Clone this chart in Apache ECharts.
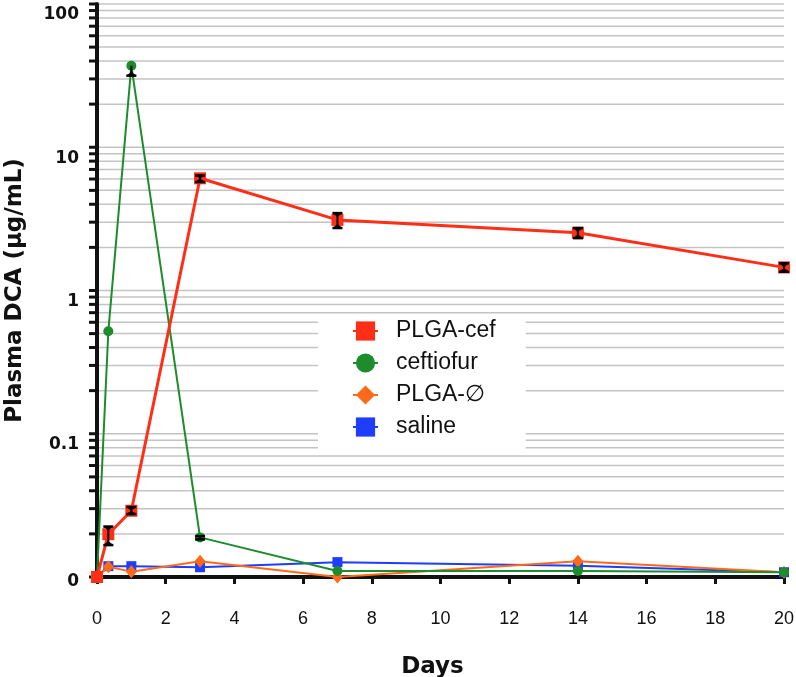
<!DOCTYPE html>
<html>
<head>
<meta charset="utf-8">
<script src="https://cdn.jsdelivr.net/npm/echarts@6/dist/echarts.min.js"></script>
<style>html,body{margin:0;padding:0;background:#fff}#c{width:796px;height:677px}</style>
</head>
<body>
<div id="c"></div>
<script>
// ---- data ----
const days = [0, 0.33, 1, 3, 7, 14, 20];
const plgaCef    = [0.01, 0.0199, 0.0290, 6.07, 3.11, 2.53, 1.45];
const plgaCefLo  = [null, 0.0167, 0.0275, 5.72, 2.73, 2.32, 1.35];
const plgaCefHi  = [null, 0.0225, 0.0308, 6.35, 3.47, 2.73, 1.55];
const ceftiofur   = [0.01, 0.52, 37.1, 0.0189, 0.0110, 0.0110, 0.0108];
const ceftiofurLo = [null, null, 31.6, 0.0183, null, null, null];
const ceftiofurHi = [null, null, 37.1, 0.0193, null, null, null];
const plgaEmpty = [0.01, 0.0118, 0.0109, 0.0129, 0.0100, 0.0129, 0.0108];
const saline    = [0.01, 0.0119, 0.0119, 0.0117, 0.0127, 0.0120, 0.0108];
const seriesNames = ['PLGA-cef', 'ceftiofur', 'PLGA-\u2205', 'saline'];
const yTickValues = [0.01, 0.1, 1, 10, 100];
const yTickLabels = ['0', '0.1', '1', '10', '100'];
const yMinorValues = [];
[0.01, 0.1, 1, 10].forEach(d => { for (let k = 1; k <= 9; k++) yMinorValues.push(+(d * k).toPrecision(3)); });
yMinorValues.push(100);
const xTicks = { min: 0, max: 20, interval: 2 };

const colors = { cef: '#ff2e17', ceft: '#1c8c2c', empty: '#ff6a1a', saline: '#1f3dff' };
const SANS = '"Liberation Sans", Arial, sans-serif';
const BOLD = '"DejaVu Sans", sans-serif';

function pts(vals) { return days.map((d, i) => [d, vals[i]]); }
function errData(vals, lo, hi) {
  const out = [];
  days.forEach((d, i) => { if (lo[i] != null) out.push([d, vals[i], lo[i], hi[i]]); });
  return out;
}

function renderErr(params, api) {
  const x = api.value(0), lo = api.value(2), hi = api.value(3), v = api.value(1);
  const pLo = api.coord([x, lo]), pHi = api.coord([x, hi]), pV = api.coord([x, v]);
  const w = 5, st = { stroke: '#000', lineWidth: 2 };
  const ch = [
    { type: 'line', shape: { x1: pHi[0], y1: pHi[1], x2: pLo[0], y2: pLo[1] }, style: st },
    { type: 'line', shape: { x1: pLo[0] - w, y1: pLo[1], x2: pLo[0] + w, y2: pLo[1] }, style: { stroke: '#000', lineWidth: 2.5 } },
    { type: 'polygon', shape: { points: [[pLo[0] - w, pLo[1]], [pLo[0] + w, pLo[1]], [pLo[0], pLo[1] - Math.min(4, Math.abs(pLo[1] - pV[1]))]] }, style: { fill: '#000' } }
  ];
  if (Math.abs(pHi[1] - pV[1]) > 0.5) {
    ch.push({ type: 'line', shape: { x1: pHi[0] - w, y1: pHi[1], x2: pHi[0] + w, y2: pHi[1] }, style: { stroke: '#000', lineWidth: 2.5 } });
    ch.push({ type: 'polygon', shape: { points: [[pHi[0] - w, pHi[1]], [pHi[0] + w, pHi[1]], [pHi[0], pHi[1] + Math.min(4, Math.abs(pHi[1] - pV[1]))]] }, style: { fill: '#000' } });
  }
  return { type: 'group', children: ch };
}

function renderGrid(params, api) {
  const cs = params.coordSys;
  const y = api.coord([0, api.value(1)])[1];
  const ch = [{ type: 'line', shape: { x1: cs.x - 8, y1: y, x2: cs.x - 1, y2: y }, style: { stroke: '#111', lineWidth: 3 } }];
  if (Math.abs(y - (cs.y + cs.height)) > 2) {
    ch.push({ type: 'line', shape: { x1: cs.x + 2, y1: y, x2: cs.x + cs.width, y2: y }, style: { stroke: '#c4c4c4', lineWidth: 1.5 } });
  }
  return { type: 'group', children: ch };
}

const chart = echarts.init(document.getElementById('c'), null, { renderer: 'canvas' });
chart.setOption({
  animation: false,
  backgroundColor: '#fff',
  grid: { left: 97, right: 12, top: 4, bottom: 100, containLabel: false, outerBoundsMode: 'none' },
  legend: {
    data: seriesNames,
    orient: 'vertical',
    left: 318, top: 315,
    padding: [4, 30, 11, 34],
    backgroundColor: '#fff',
    itemWidth: 25, itemHeight: 24, itemGap: 8,
    lineStyle: { width: 2 },
    textStyle: { fontFamily: SANS, fontSize: 23, color: '#111', lineHeight: 24, padding: [0, 0, 0, 13] }
  },
  xAxis: {
    type: 'value', min: xTicks.min, max: xTicks.max, interval: xTicks.interval,
    name: 'Days', nameLocation: 'middle', nameGap: 79,
    nameTextStyle: { fontFamily: BOLD, fontWeight: 'bold', fontSize: 23, color: '#111', padding: [0, 16, 0, 0] },
    axisLine: { lineStyle: { color: '#111', width: 4 } },
    axisTick: { show: true, length: 7, lineStyle: { color: '#111', width: 3 } },
    axisLabel: { fontFamily: SANS, fontSize: 18, color: '#111', margin: 33 },
    splitLine: { show: false }
  },
  yAxis: {
    type: 'log', logBase: 10, min: 0.01, max: 100,
    name: 'Plasma DCA (\u00b5g/mL)', nameLocation: 'middle', nameGap: 70,
    nameTextStyle: { fontFamily: BOLD, fontWeight: 'bold', fontSize: 23, color: '#111' },
    axisLine: { lineStyle: { color: '#111', width: 4 } },
    axisTick: { show: false },
    splitLine: { show: false },
    axisLabel: {
      margin: 18, color: '#111', fontFamily: BOLD, fontWeight: 'bold', fontSize: 17,
      formatter: function (v) {
        const i = yTickValues.findIndex(t => Math.abs(Math.log10(t) - Math.log10(v)) < 1e-6);
        if (i < 0) return '';
        return i === 0 ? '{z|' + yTickLabels[i] + '}' : '{a|' + yTickLabels[i] + '}';
      },
      rich: {
        a: { fontFamily: BOLD, fontWeight: 'bold', fontSize: 17, color: '#111', padding: [22, 0, 0, 0] },
        z: { fontFamily: BOLD, fontWeight: 'bold', fontSize: 17, color: '#111', padding: [10, 0, 0, 0] }
      }
    }
  },
  series: [
    { type: 'custom', name: 'grid', silent: true, z: 1, renderItem: renderGrid,
      data: yMinorValues.map(v => [0, v]), encode: { x: 0, y: 1 } },
    { type: 'line', name: 'saline', data: pts(saline), z: 3, clip: false,
      symbol: 'rect', symbolSize: 10, color: colors.saline,
      lineStyle: { width: 2, color: colors.saline }, itemStyle: { color: colors.saline } },
    { type: 'line', name: 'PLGA-\u2205', data: pts(plgaEmpty), z: 4, clip: false,
      symbol: 'diamond', symbolSize: [11, 13], color: colors.empty,
      lineStyle: { width: 2, color: colors.empty }, itemStyle: { color: colors.empty } },
    { type: 'line', name: 'ceftiofur', data: pts(ceftiofur), z: 5, clip: false,
      symbol: 'circle', symbolSize: 10, color: colors.ceft,
      lineStyle: { width: 2, color: colors.ceft }, itemStyle: { color: colors.ceft } },
    { type: 'line', name: 'PLGA-cef', data: pts(plgaCef), z: 6, clip: false,
      symbol: 'rect', symbolSize: 12, color: colors.cef,
      lineStyle: { width: 3, color: colors.cef }, itemStyle: { color: colors.cef } },
    { type: 'custom', name: 'errCeft', silent: true, z: 9, renderItem: renderErr,
      data: errData(ceftiofur, ceftiofurLo, ceftiofurHi), encode: { x: 0, y: 1 } },
    { type: 'custom', name: 'errCef', silent: true, z: 10, renderItem: renderErr,
      data: errData(plgaCef, plgaCefLo, plgaCefHi), encode: { x: 0, y: 1 } }
  ]
});
</script>
</body>
</html>
